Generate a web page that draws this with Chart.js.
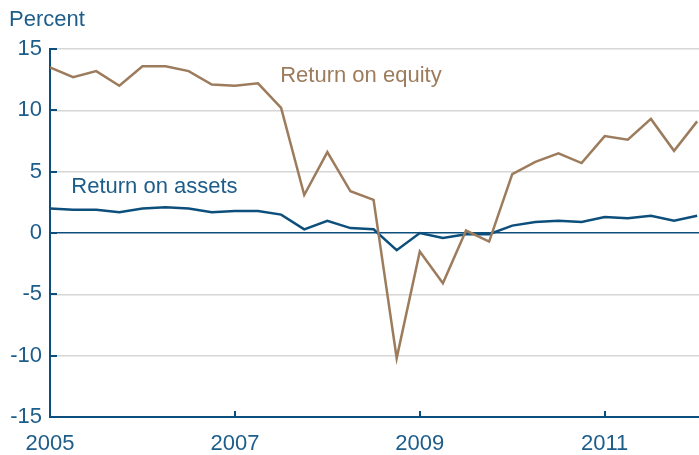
<!DOCTYPE html>
<html>
<head>
<meta charset="utf-8">
<script src="https://cdn.jsdelivr.net/npm/chart.js@4/dist/chart.umd.min.js"></script>
<style>
  html, body { margin: 0; padding: 0; background: #fff; }
  #wrap { width: 699px; height: 455px; position: relative; }
</style>
</head>
<body>
<div id="wrap"><canvas id="myChart"></canvas></div>
<script>
// quarterly, 2005 Q1 .. 2012 Q1
const quarters = [];
for (let y = 2005; y <= 2012; y++) {
    for (let q = 0; q < 4; q++) {
        if (y === 2012 && q > 0) break;
        quarters.push(y + q / 4);
    }
}

const returnOnEquity = [
    13.5, 12.7, 13.2, 12.0,
    13.6, 13.6, 13.2, 12.1,
    12.0, 12.2, 10.2, 3.1,
    6.6, 3.4, 2.7, -10.2,
    -1.5, -4.1, 0.2, -0.7,
    4.8, 5.8, 6.5, 5.7,
    7.9, 7.6, 9.3, 6.7,
    9.1
];

const returnOnAssets = [
    2.0, 1.9, 1.9, 1.7,
    2.0, 2.1, 2.0, 1.7,
    1.8, 1.8, 1.5, 0.3,
    1.0, 0.4, 0.3, -1.4,
    0.0, -0.4, -0.1, -0.1,
    0.6, 0.9, 1.0, 0.9,
    1.3, 1.2, 1.4, 1.0,
    1.4
];

const xTickYears = [2005, 2007, 2009, 2011];
const yTicks = [-15, -10, -5, 0, 5, 10, 15];

const blue = '#0d4f7c';
const textBlue = '#1d5d8a';
const brown = '#9c7c5c';
const font = 'Liberation Sans, Arial, sans-serif';

const labelsPlugin = {
    id: 'extras',
    afterDraw(chart) {
        const { ctx, scales: { x, y } } = chart;
        ctx.save();
        ctx.strokeStyle = blue;
        ctx.lineWidth = 2;
        // x tick marks pointing up into the plot
        xTickYears.slice(1).forEach(v => {
            const px = Math.round(x.getPixelForValue(v));
            ctx.beginPath();
            ctx.moveTo(px, y.bottom);
            ctx.lineTo(px, y.bottom - 6);
            ctx.stroke();
        });
        // y tick marks pointing right into the plot
        yTicks.forEach(v => {
            const py = Math.round(y.getPixelForValue(v));
            ctx.beginPath();
            ctx.moveTo(x.left, py);
            ctx.lineTo(x.left + 7, py);
            ctx.stroke();
        });
        // series labels
        ctx.font = '22px ' + font;
        ctx.textBaseline = 'middle';
        ctx.textAlign = 'left';
        ctx.fillStyle = brown;
        ctx.fillText('Return on equity', x.getPixelForValue(2007.49), y.getPixelForValue(12.8));
        ctx.fillStyle = textBlue;
        ctx.fillText('Return on assets', x.getPixelForValue(2005.23), y.getPixelForValue(3.75));
        // unit label
        ctx.fillText('Percent', 9, 20);
        ctx.restore();
    }
};

const ctx = document.getElementById('myChart').getContext('2d');
new Chart(ctx, {
    type: 'line',
    data: {
        datasets: [
            {
                label: 'Return on equity',
                data: quarters.map((q, i) => ({ x: q, y: returnOnEquity[i] })),
                borderColor: brown,
                borderWidth: 2.5,
                pointRadius: 0,
                tension: 0
            },
            {
                label: 'Return on assets',
                data: quarters.map((q, i) => ({ x: q, y: returnOnAssets[i] })),
                borderColor: blue,
                borderWidth: 2.5,
                pointRadius: 0,
                tension: 0
            }
        ]
    },
    options: {
        responsive: true,
        maintainAspectRatio: false,
        animation: false,
        layout: { padding: { top: 49, left: 0, right: 0, bottom: 0 } },
        plugins: {
            legend: { display: false },
            tooltip: { enabled: false }
        },
        scales: {
            x: {
                type: 'linear',
                min: 2005,
                max: 2012.02,
                afterBuildTicks: scale => { scale.ticks = xTickYears.map(v => ({ value: v })); },
                afterFit: scale => { scale.height = 38; },
                border: { display: true, color: blue, width: 2 },
                grid: { display: false },
                ticks: {
                    color: textBlue,
                    font: { family: font, size: 22 },
                    padding: 6,
                    maxRotation: 0,
                    callback: v => String(v)
                }
            },
            y: {
                min: -15,
                max: 15,
                afterBuildTicks: scale => { scale.ticks = yTicks.map(v => ({ value: v })); },
                afterFit: scale => { scale.width = 50; },
                border: { display: true, color: blue, width: 2 },
                grid: {
                    color: c => c.tick && c.tick.value === 0 ? blue : '#d6d6d6',
                    lineWidth: 1.5,
                    drawTicks: false
                },
                ticks: {
                    color: textBlue,
                    font: { family: font, size: 22 },
                    padding: 8
                }
            }
        }
    },
    plugins: [labelsPlugin]
});
</script>
</body>
</html>
